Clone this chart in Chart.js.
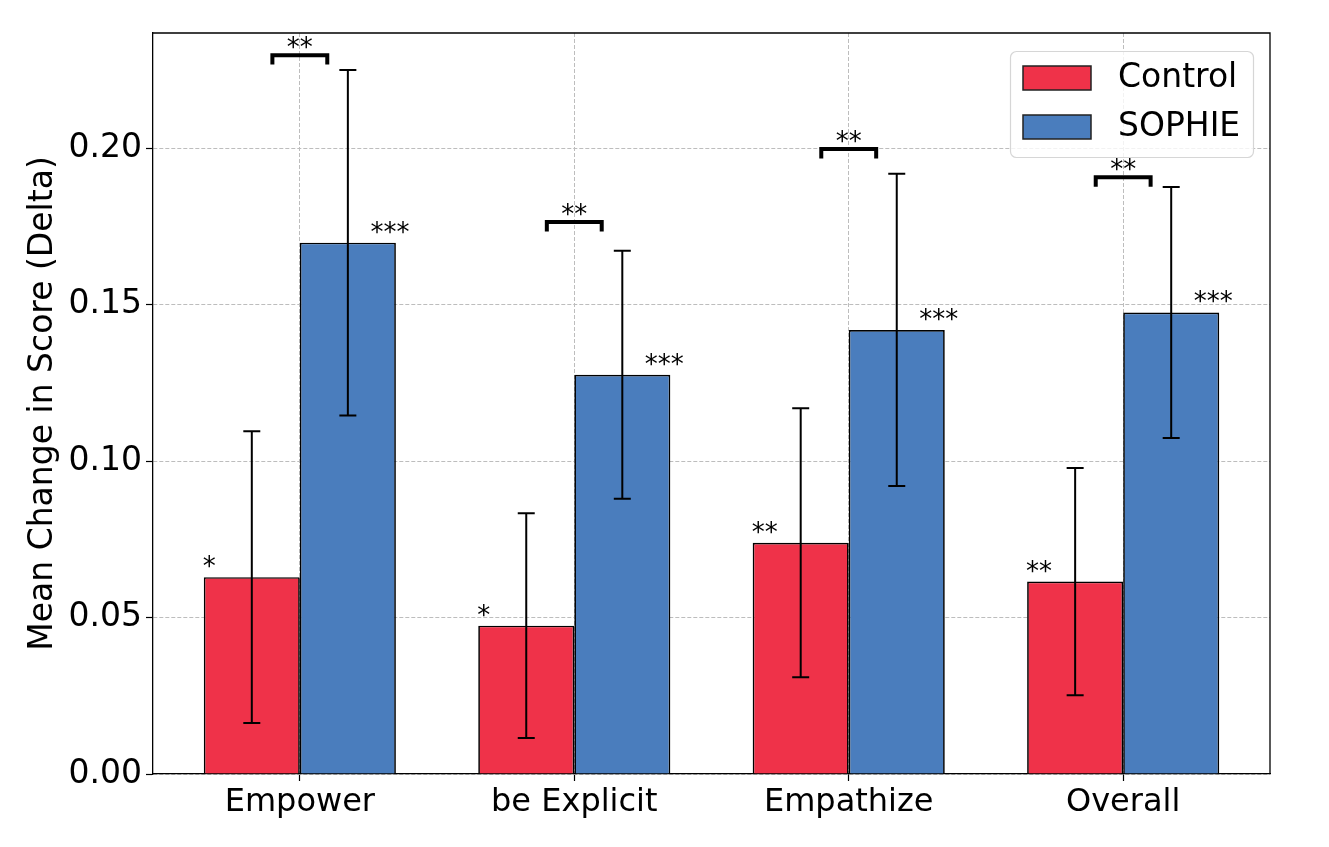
<!DOCTYPE html>
<html><head><meta charset="utf-8">
<script src="https://cdn.jsdelivr.net/npm/chart.js@4"></script>
<style>html,body{margin:0;padding:0;background:#fff;} canvas{display:block;}</style>
</head><body>
<canvas id="c" width="1329" height="847"></canvas>
<script>
const categories = ['Empower', 'be Explicit', 'Empathize', 'Overall'];
const seriesNames = ['Control', 'SOPHIE'];
const controlMeans = [0.0629, 0.0474, 0.0739, 0.0615];
const controlErr = [0.0466, 0.0359, 0.0430, 0.0363];
const sophieMeans = [0.1698, 0.1276, 0.1419, 0.1475];
const sophieErr = [0.0552, 0.0396, 0.0499, 0.0401];
const controlSig = ['*', '*', '**', '**'];
const sophieSig = ['***', '***', '***', '***'];
const pairSig = ['**', '**', '**', '**'];
const pairBracketY = [0.2297, 0.1764, 0.1997, 0.1907];
const yTicks = [0, 0.05, 0.10, 0.15, 0.20];

const FONT = '"DejaVu Sans", "Liberation Sans", sans-serif';
const seriesColors = ['#EF3249', '#4A7DBD'];
const GRID = '#bdbdbd';

Chart.defaults.font.family = FONT;
Chart.defaults.color = '#000';

const toPoints = arr => arr.map((v, i) => ({x: i, y: v}));
const errs = [controlErr, sophieErr];
const means = [controlMeans, sophieMeans];

const overlay = {
  id: 'overlay',
  afterDraw(chart) {
    const {ctx, chartArea: ca, scales: {x: xs, y: ys}} = chart;
    ctx.save();
    // top & right spines
    ctx.strokeStyle = '#000'; ctx.lineWidth = 1.3;
    ctx.beginPath();
    ctx.moveTo(ca.left, ca.top); ctx.lineTo(ca.right, ca.top); ctx.lineTo(ca.right, ca.bottom);
    ctx.stroke();

    // error bars
    ctx.lineWidth = 2; ctx.strokeStyle = '#000';
    for (let d = 0; d < 2; d++) {
      const meta = chart.getDatasetMeta(d);
      meta.data.forEach((el, i) => {
        const hi = ys.getPixelForValue(means[d][i] + errs[d][i]);
        const lo = ys.getPixelForValue(means[d][i] - errs[d][i]);
        ctx.beginPath();
        ctx.moveTo(el.x, hi); ctx.lineTo(el.x, lo);
        ctx.moveTo(el.x - 8.5, hi); ctx.lineTo(el.x + 8.5, hi);
        ctx.moveTo(el.x - 8.5, lo); ctx.lineTo(el.x + 8.5, lo);
        ctx.stroke();
      });
    }

    // significance stars on bars
    ctx.fillStyle = '#000';
    ctx.font = '26px ' + FONT;
    ctx.textBaseline = 'alphabetic';
    const m0 = chart.getDatasetMeta(0), m1 = chart.getDatasetMeta(1);
    m0.data.forEach((el, i) => {
      ctx.textAlign = 'left';
      ctx.fillText(controlSig[i], el.x - el.width / 2 - 1, el.y - 2);
    });
    m1.data.forEach((el, i) => {
      ctx.textAlign = 'center';
      ctx.fillText(sophieSig[i], el.x + el.width / 2 - 6, el.y - 2);
    });

    // brackets between groups
    ctx.lineWidth = 4; ctx.lineJoin = 'miter'; ctx.lineCap = 'butt';
    pairBracketY.forEach((h, i) => {
      const xl = xs.getPixelForValue(i - 0.1), xr = xs.getPixelForValue(i + 0.1);
      const yy = ys.getPixelForValue(h), yl = ys.getPixelForValue(h - 0.003);
      ctx.beginPath();
      ctx.moveTo(xl, yl); ctx.lineTo(xl, yy); ctx.lineTo(xr, yy); ctx.lineTo(xr, yl);
      ctx.stroke();
      ctx.textAlign = 'center';
      ctx.fillText(pairSig[i], xs.getPixelForValue(i), yy + 1);
    });

    // legend
    const lx = ca.right - 259.5, ly = ca.top + 18.5, lw = 243, lh = 106;
    ctx.beginPath();
    ctx.roundRect(lx, ly, lw, lh, 6);
    ctx.fillStyle = 'rgba(255,255,255,0.8)'; ctx.fill();
    ctx.strokeStyle = '#d6d6d6'; ctx.lineWidth = 1.2; ctx.stroke();
    ctx.font = '33px ' + FONT;
    ctx.textAlign = 'left'; ctx.textBaseline = 'middle';
    seriesNames.forEach((name, k) => {
      const sy = ly + 14.5 + k * 49;
      ctx.fillStyle = seriesColors[k];
      ctx.fillRect(lx + 12.5, sy, 68, 24);
      ctx.strokeStyle = '#222'; ctx.lineWidth = 1.5;
      ctx.strokeRect(lx + 12.5, sy, 68, 24);
      ctx.fillStyle = '#000';
      ctx.fillText(name, lx + 107.5, sy + 12);
    });
    ctx.restore();
  }
};

new Chart(document.getElementById('c'), {
  type: 'bar',
  data: {
    datasets: [
      {label: seriesNames[0], data: toPoints(controlMeans), backgroundColor: seriesColors[0], borderColor: '#000', borderWidth: 1.7, categoryPercentage: 0.7, barPercentage: 1.0},
      {label: seriesNames[1], data: toPoints(sophieMeans), backgroundColor: seriesColors[1], borderColor: '#000', borderWidth: 1.7, categoryPercentage: 0.7, barPercentage: 1.0}
    ]
  },
  options: {
    responsive: false,
    animation: false,
    devicePixelRatio: 1,
    layout: {padding: {left: 0, top: 33, right: 59, bottom: 0}},
    plugins: {legend: {display: false}, tooltip: {enabled: false}},
    scales: {
      x: {
        type: 'linear', min: -0.535, max: 3.535, z: 1, offset: false,
        afterBuildTicks: s => { s.ticks = categories.map((_, i) => ({value: i})); },
        afterFit: s => { s.height = 73; },
        ticks: {callback: v => categories[v] ?? '', font: {size: 32}, padding: 2, maxRotation: 0, autoSkip: false, color: '#000'},
        grid: {offset: false, color: GRID, lineWidth: 1, tickColor: '#000', tickLength: 7, tickWidth: 1.2, tickBorderDash: []},
        border: {display: true, color: '#000', width: 1.3, dash: [4, 2]}
      },
      y: {
        min: 0, max: 0.2368, z: 1,
        afterBuildTicks: s => { s.ticks = yTicks.map(v => ({value: v})); },
        afterFit: s => { s.width = 153; },
        ticks: {callback: v => Number(v).toFixed(2), font: {size: 33}, padding: 4, color: '#000'},
        grid: {color: GRID, lineWidth: 1, tickColor: '#000', tickLength: 7, tickWidth: 1.2, tickBorderDash: []},
        border: {display: true, color: '#000', width: 1.3, dash: [4, 2]},
        title: {display: true, text: 'Mean Change in Score (Delta)', font: {size: 33}, color: '#000', padding: {top: 24, bottom: 0}}
      }
    }
  },
  plugins: [overlay]
});
</script>
</body></html>
